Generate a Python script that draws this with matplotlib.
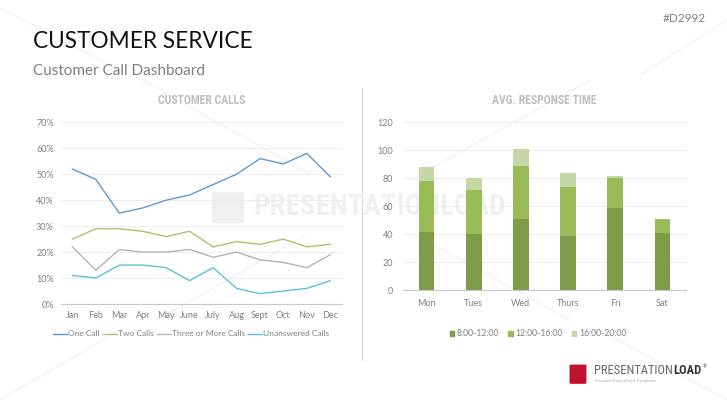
import matplotlib.pyplot as plt
from matplotlib.patches import Patch, FancyBboxPatch

months = ["Jan", "Feb", "Mar", "Apr", "May", "June", "July", "Aug", "Sept", "Oct", "Nov", "Dec"]
one_call = [52, 48, 35, 37, 40, 42, 46, 50, 56, 54, 58, 49]
two_calls = [25, 29, 29, 28, 26, 28, 22, 24, 23, 25, 22, 23]
three_more = [22, 13, 21, 20, 20, 21, 18, 20, 17, 16, 14, 19]
unanswered = [11, 10, 15, 15, 14, 9, 14, 6, 4, 5, 6, 9]

days = ["Mon", "Tues", "Wed", "Thurs", "Fri", "Sat"]
slot_8_12 = [42, 40, 51, 39, 59, 41]
slot_12_16 = [36, 32, 38, 35, 21, 10]
slot_16_20 = [10, 8, 12, 10, 2, 0]

W, H = 727, 409
fig = plt.figure(figsize=(7.27, 4.09), dpi=100)
fig.patch.set_facecolor("white")
plt.rcParams["font.family"] = ["Lato", "DejaVu Sans"]

def fx(px):
    return px / W

def fy(py):
    return 1 - py / H

tick_col = "#808080"
grid_col = "#EDEDED"
narrow = ["Roboto Condensed", "Liberation Sans Narrow", "DejaVu Sans"]

# faint watermark lines
bg = fig.add_axes([0, 0, 1, 1], zorder=-5)
bg.set_xlim(0, W)
bg.set_ylim(H, 0)
bg.axis("off")
for (x0, y0, x1, y1) in [(142, 80, 310, 174), (157, 320, 308, 234), (590, 80, 410, 180),
                         (413, 233, 570, 320), (0, 8, 130, 75), (0, 400, 120, 330),
                         (600, 330, 727, 400), (640, 75, 727, 20)]:
    bg.plot([x0, x1], [y0, y1], color="#F0F0F0", lw=0.8)
bg.plot([362, 362], [88, 360], color="#D9D9D9", lw=0.8)

# header
fig.text(fx(33), fy(48.5), "CUSTOMER SERVICE", fontsize=16.3, color="#111111", va="baseline")
fig.text(fx(33), fy(75), "Customer Call Dashboard", fontsize=11, color="#7F7F7F", va="baseline")
fig.text(fx(706), fy(18), "#D2992", fontsize=8.5, color="#808080", ha="right", va="center")

# watermark (behind the charts)
fig.text(fx(253), fy(207), "PRESENTATIONLOAD", family=narrow, fontstretch="condensed", fontweight="bold",
         fontsize=21, color="#F0F0F0", va="center", zorder=-1)
wm = FancyBboxPatch((fx(214), fy(222)), fx(28), 0.07, boxstyle="round,pad=0.003",
                    transform=fig.transFigure, facecolor="#F0F0F0", edgecolor="none", zorder=-1)
fig.patches.append(wm)

# left: line chart
ax1 = fig.add_axes([fx(60.7), fy(304), fx(342 - 60.7), (304 - 122.3) / H])
ax1.set_facecolor("none")
x = list(range(len(months)))
ax1.plot(x, one_call, color="#5B9BD5", lw=1, label="One Call")
ax1.plot(x, two_calls, color="#A9C46C", lw=1, label="Two Calls")
ax1.plot(x, three_more, color="#B4B4B4", lw=1, label="Three or More Calls")
ax1.plot(x, unanswered, color="#5BC1DE", lw=1, label="Unanswered Calls")
ax1.set_xlim(-0.5, 11.5)
ax1.set_ylim(0, 70)
ax1.set_yticks(range(0, 71, 10))
ax1.set_yticklabels([f"{v}%" for v in range(0, 71, 10)])
ax1.set_xticks(x)
ax1.set_xticklabels(months)
ax1.grid(axis="y", color=grid_col, lw=0.8)
ax1.set_axisbelow(True)
for s in ["top", "right", "left"]:
    ax1.spines[s].set_visible(False)
ax1.spines["bottom"].set_color("#C8C8C8")
ax1.tick_params(length=0, labelsize=6.5, labelcolor=tick_col, pad=5)
ax1.set_title("CUSTOMER CALLS", family=narrow, fontstretch="condensed", fontweight="bold",
              fontsize=8.5, color="#BFBFBF", pad=13)
ax1.legend(loc="center", bbox_to_anchor=(fx(191), fy(334)), bbox_transform=fig.transFigure, ncol=4,
           frameon=False, fontsize=6, labelcolor=tick_col, handlelength=1.7, handletextpad=0.1,
           columnspacing=0.4)

# right: stacked bars
ax2 = fig.add_axes([fx(403), fy(290.3), fx(686 - 403), (290.3 - 122.3) / H])
ax2.set_facecolor("none")
xb = list(range(len(days)))
top_bottom = [a + b for a, b in zip(slot_8_12, slot_12_16)]
ax2.bar(xb, slot_8_12, width=0.33, color="#7F9B4A", label="8:00-12:00")
ax2.bar(xb, slot_12_16, width=0.33, bottom=slot_8_12, color="#9BBB59", label="12:00-16:00")
ax2.bar(xb, slot_16_20, width=0.33, bottom=top_bottom, color="#C5D7A6", label="16:00-20:00")
ax2.set_xlim(-0.5, 5.5)
ax2.set_ylim(0, 120)
ax2.set_yticks(range(0, 121, 20))
ax2.set_xticks(xb)
ax2.set_xticklabels(days)
ax2.grid(axis="y", color=grid_col, lw=0.8)
ax2.set_axisbelow(True)
for s in ["top", "right", "left"]:
    ax2.spines[s].set_visible(False)
ax2.spines["bottom"].set_color("#C8C8C8")
ax2.tick_params(length=0, labelsize=6.5, labelcolor=tick_col, pad=6)
ax2.tick_params(axis="y", pad=7)
ax2.set_title("AVG. RESPONSE TIME", family=narrow, fontstretch="condensed", fontweight="bold",
              fontsize=8.5, color="#BFBFBF", pad=13)
handles = [Patch(color="#7F9B4A"), Patch(color="#9BBB59"), Patch(color="#C5D7A6")]
ax2.legend(handles, ["8:00-12:00", "12:00-16:00", "16:00-20:00"], loc="center",
           bbox_to_anchor=(fx(538), fy(334)), bbox_transform=fig.transFigure, ncol=3, frameon=False,
           fontsize=6.2, labelcolor=tick_col, handlelength=0.55, handleheight=0.55, handletextpad=0.3,
           columnspacing=1.0)

# logo
logo = FancyBboxPatch((fx(571), fy(383)), fx(14), 0.043, boxstyle="round,pad=0.002",
                      transform=fig.transFigure, facecolor="#C0122C", edgecolor="none")
fig.patches.append(logo)
t1 = fig.text(fx(594), fy(374), "PRESENTATION", family=narrow, fontstretch="condensed", fontsize=9,
              color="#666666", va="baseline")
fig.canvas.draw()
x_end = t1.get_window_extent().x1 / W
t2 = fig.text(x_end, fy(374), "LOAD", family=narrow, fontstretch="condensed", fontsize=9,
              fontweight="bold", color="#333333", va="baseline")
fig.canvas.draw()
x_end2 = t2.get_window_extent().x1 / W
fig.text(x_end2 + 0.002, fy(368), "®", fontsize=3.5, color="#333333", va="baseline")
fig.text(fx(595), fy(382), "Premium PowerPoint Templates", fontsize=3.2, color="#AAAAAA", va="baseline")

plt.savefig("out.png", dpi=100)
